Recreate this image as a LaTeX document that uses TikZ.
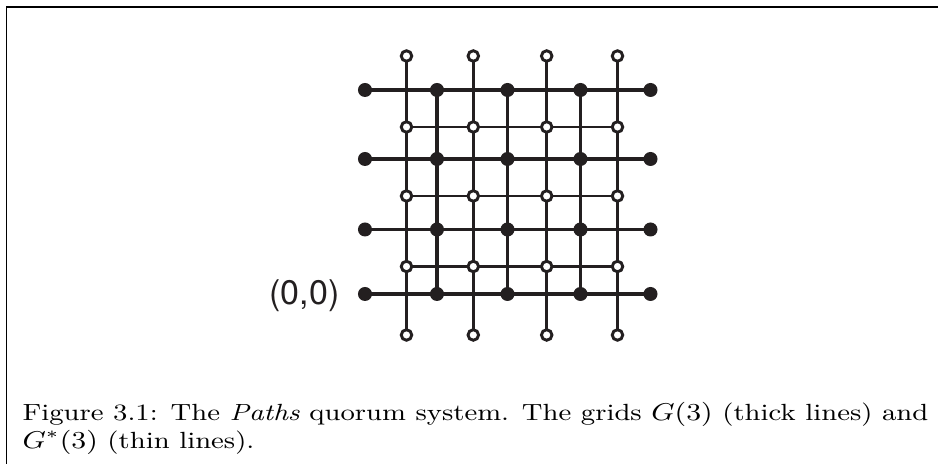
\documentclass[tikz,border=0pt]{standalone}
\usepackage{fontspec}
\usepackage{graphicx}
\newfontfamily\labelfont{TeX Gyre Heros}
\definecolor{ink}{RGB}{35,31,32}
\pgfdeclarelayer{background}
\pgfsetlayers{background,main}
\newsavebox\caplineone
\newcommand\capfont{\fontsize{8.67}{10.37}\selectfont}
\begin{document}
\sbox\caplineone{\capfont Figure 3.1: The \emph{Paths} quorum system. The grids $G(3)$ (thick lines) and}
\begin{tikzpicture}[x=0.37037pt,y=-0.37037pt,
  fdot/.style={circle,fill=ink,inner sep=0pt,minimum size=5.19pt},
  odot/.style={circle,draw=ink,fill=white,line width=1.08pt,inner sep=0pt,minimum size=3.9pt},
  thickline/.style={draw=ink,line width=1.36pt},
  thinline/.style={draw=ink,line width=1.08pt},
  framestyle/.style={draw=black,line width=0.45pt},
  lbl/.style={font=\labelfont\fontsize{12.6}{15}\selectfont,text=ink,inner sep=0pt},
  captext/.style={font=\capfont,inner sep=0pt}]
\pgfmathsetmacro\capfactor{335.5pt/\the\wd\caplineone}
\useasboundingbox (0,0) rectangle (938,464);
% frame
\coordinate (fa) at (938,7);
\coordinate (fb) at (6.5,7);
\coordinate (fc) at (6.5,464);
\draw[framestyle] (fa) -- (fb) -- (fc);
% filled dots (grid G(3))
\foreach \c/\x in {1/365,2/437,3/507.5,4/580.5,5/650.5}{
  \foreach \r/\y in {1/90,2/159,3/229.5,4/294}{
    \node[fdot] (f\r\c) at (\x,\y) {};
  }
}
% open dots (grid G*(3))
\foreach \c/\x in {1/406.5,2/473.3,3/546.7,4/617.5}{
  \foreach \r/\y in {1/56,2/127,3/196,4/266.5,5/335}{
    \node[odot] (o\r\c) at (\x,\y) {};
  }
}
\begin{pgfonlayer}{background}
\foreach \r in {1,2,3,4}{\draw[thickline] (f\r1.center) -- (f\r5.center);}
\foreach \c in {2,3,4}{\draw[thickline] (f1\c.center) -- (f4\c.center);}
\foreach \c in {1,2,3,4}{\draw[thinline] (o1\c.center) -- (o5\c.center);}
\foreach \r in {2,3,4}{\draw[thinline] (o\r1.center) -- (o\r4.center);}
\end{pgfonlayer}
\node[lbl,anchor=east] (origin) at (340,296) {(0,0)};
\node[captext,anchor=base west] (caption1) at (22,421) {\scalebox{\capfactor}[1]{\usebox\caplineone}};
\node[captext,anchor=base west] (caption2) at (22,449) {\scalebox{\capfactor}[1]{$G^*(3)$ (thin lines).}};
\end{tikzpicture}
\end{document}
